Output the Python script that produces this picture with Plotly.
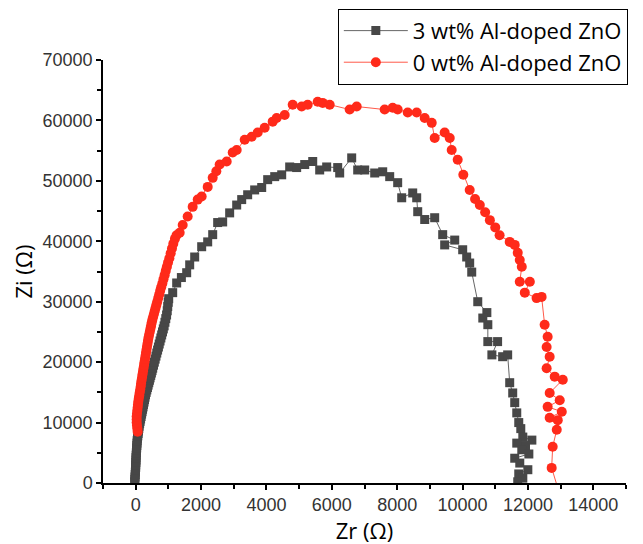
import plotly.graph_objects as go

# 3 wt% Al-doped ZnO  (Zr, Zi in ohm)
zr_3wt = [-30, -25, -20, -15, -10, -5, 0, 0, 5, 10, 10, 15, 20, 25, 30, 35, 40, 45, 55, 65, 75, 85, 95,
          105, 120, 135, 150, 165, 180, 195, 210, 225, 240, 255, 270, 285, 300, 320, 340, 360, 380, 400,
          420, 440, 460, 480, 500, 520, 545, 570, 595, 620, 645, 670, 695, 720, 745, 770, 795, 820, 845,
          870, 895, 920, 945, 965, 980, 995, 1010, 1132, 1254, 1398, 1560, 1652, 1805, 2019, 2203,
          2356, 2508, 2661, 2875, 3090, 3243, 3426, 3640, 3855, 4038, 4253, 4467, 4711, 4925, 5171, 5416,
          5629, 5843, 6180, 6241, 6608, 6792, 7006, 7312, 7557, 7771, 8015, 8138, 8475, 8597, 8628, 8842,
          9147, 9392, 9760, 9453, 10004, 10126, 10218, 10280, 10465, 10743, 10619, 10773, 10773, 11072,
          10897, 11226, 11380, 11442, 11534, 11596, 11658, 11719, 11781, 11843, 12120, 11925, 11658, 11812,
          12028, 11596, 11750, 11997, 11719, 11843, 11688]
zi_3wt = [200, 600, 1000, 1400, 1800, 2200, 2600, 3000, 3400, 3800, 4200, 4600, 5000, 5400, 5800, 6200,
          6600, 7000, 7400, 7800, 8200, 8600, 9000, 9400, 9800, 10200, 10600, 11000, 11400, 11800, 12200,
          12600, 13000, 13400, 13800, 14200, 14600, 15000, 15400, 15800, 16200, 16600, 17000, 17400,
          17800, 18200, 18600, 19000, 19500, 20000, 20500, 21000, 21500, 22000, 22500, 23000, 23500,
          24000, 24500, 25000, 25500, 26000, 26600, 27200, 27800, 28500, 29200, 29900, 30500, 31500,
          33100, 34000, 34800, 36100, 37400, 39100, 39900, 41100, 43100, 43200, 44700, 46000, 46900,
          47700, 48500, 48900, 50200, 50700, 51000, 52300, 52200, 52700, 53200, 51800, 52300, 52200, 51300,
          53800, 51800, 51800, 51300, 51500, 50700, 49700, 47200, 48000, 47200, 44900, 43600, 43900, 41100,
          40200, 39400, 38600, 37400, 36400, 34900, 30000, 28200, 27300, 26200, 23400, 23400, 21200, 20900,
          21200, 16600, 14900, 13300, 11600, 10000, 9000, 7600, 7100, 6200, 6600, 5500, 4800, 4100, 3300,
          2200, 1500, 800, 200]

# 0 wt% Al-doped ZnO  (Zr, Zi in ohm)
zr_0wt = [60, 50, 40, 30, 30, 30, 40, 50, 60, 70, 80, 95, 110, 125, 140, 155, 165, 180, 195, 210, 225,
          240, 255, 270, 285, 300, 315, 330, 345, 360, 375, 390, 410, 430, 450, 470, 490, 510, 535, 560,
          585, 610, 635, 660, 690, 720, 750, 780, 815, 850, 885, 920, 955, 990, 1030, 1070, 1110, 1150,
          1200, 1250, 1346, 1438, 1590, 1743, 1897, 2019, 2203, 2356, 2467, 2570, 2784,
          2968, 3090, 3335, 3549, 3733, 3946, 4191, 4313, 4558, 4803, 5078, 5262, 5568, 5721, 5935, 6547,
          6761, 7617, 7862, 8015, 8322, 8597, 8842, 9056, 9147, 9453, 9607, 9667, 9851, 10023, 10218, 10383,
          10527, 10691, 10835, 11000, 11133, 11442, 11596, 11688, 11750, 11812, 11750, 12058, 11904, 12264,
          12418, 12511, 12603, 12572, 12665, 12572, 12819, 13066, 12665, 12973, 12603, 13035, 12665, 12912,
          12881, 12757, 12726, 12950]
zi_0wt = [8500, 9000, 9500, 10000, 10500, 11000, 11500, 12000, 12500, 13000, 13500, 14000, 14500, 15000,
          15500, 16000, 16500, 17000, 17500, 18000, 18500, 19000, 19500, 20000, 20500, 21000, 21500, 22000,
          22500, 23000, 23500, 24000, 24500, 25000, 25500, 26000, 26500, 27000, 27500, 28000, 28500, 29000,
          29500, 30000, 30600, 31200, 31800, 32400, 33000, 33700, 34400, 35100, 35800, 36500, 37200, 38000,
          38800, 39600, 40400, 41000, 41400, 42700, 44100, 45700, 46900, 47400, 49000, 50500, 51600, 52700,
          53200, 54700, 55100, 56800, 57300, 58000, 58800, 59800, 60400, 60900, 62600, 62300, 62600, 63100,
          62900, 62600, 61800, 62300, 61800, 62100, 61800, 61300, 61300, 60400, 59600, 57100, 58000, 57100,
          55100, 53500, 51000, 48500, 47000, 46000, 44800, 43500, 42300, 41000, 39900, 39400, 38100, 36900,
          35800, 33300, 33300, 31500, 30600, 30800, 26200, 24200, 22500, 20900, 19000, 17600, 17100, 14900,
          13700, 12600, 11800, 10800, 10400, 8800, 6000, 2500, -1500]

fig = go.Figure()
fig.add_trace(go.Scatter(
    x=zr_3wt, y=zi_3wt, mode="lines+markers", name="3 wt% Al-doped ZnO",
    line=dict(color="#666666", width=1),
    marker=dict(symbol="square", size=9, color="#474747"),
))
fig.add_trace(go.Scatter(
    x=zr_0wt, y=zi_0wt, mode="lines+markers", name="0 wt% Al-doped ZnO",
    line=dict(color="#ff5a4a", width=1),
    marker=dict(symbol="circle", size=10, color="#ff2a1a"),
))

axis_common = dict(
    showline=True, linecolor="black", linewidth=1.5, mirror=False,
    ticks="outside", ticklen=5, tickwidth=1.5, tickcolor="black",
    showgrid=False, zeroline=False, tickformat="d",
    tickfont=dict(family="Liberation Sans", size=18, color="#333333"),
)

fig.update_xaxes(
    range=[-1000, 15000], tickmode="linear", tick0=0, dtick=2000,
    minor=dict(ticks="outside", ticklen=4, tickwidth=1.5, tickcolor="black", dtick=1000, tick0=0, showgrid=False),
    title=dict(text="Zr (Ω)", font=dict(family="Open Sans", size=22, color="black"), standoff=4),
    **axis_common,
)
fig.update_yaxes(
    range=[0, 70000], tickmode="linear", tick0=0, dtick=10000,
    minor=dict(ticks="outside", ticklen=4, tickwidth=1.5, tickcolor="black", dtick=5000, tick0=0, showgrid=False),
    title=dict(text="Zi (Ω)", font=dict(family="Open Sans", size=22, color="black"), standoff=8),
    **axis_common,
)

# the page body adds an 8 px offset, so margins are shifted by 8 px
fig.update_layout(
    width=643, height=544,
    margin=dict(l=95, r=25, t=52, b=69, autoexpand=False),
    plot_bgcolor="white", paper_bgcolor="white",
    legend=dict(
        x=0.449, y=1.121, xanchor="left", yanchor="top",
        bgcolor="white", bordercolor="black", borderwidth=1,
        font=dict(family="Open Sans", size=22, color="black"),
        itemwidth=64, tracegroupgap=0,
    ),
)

fig.write_html("out.html")
